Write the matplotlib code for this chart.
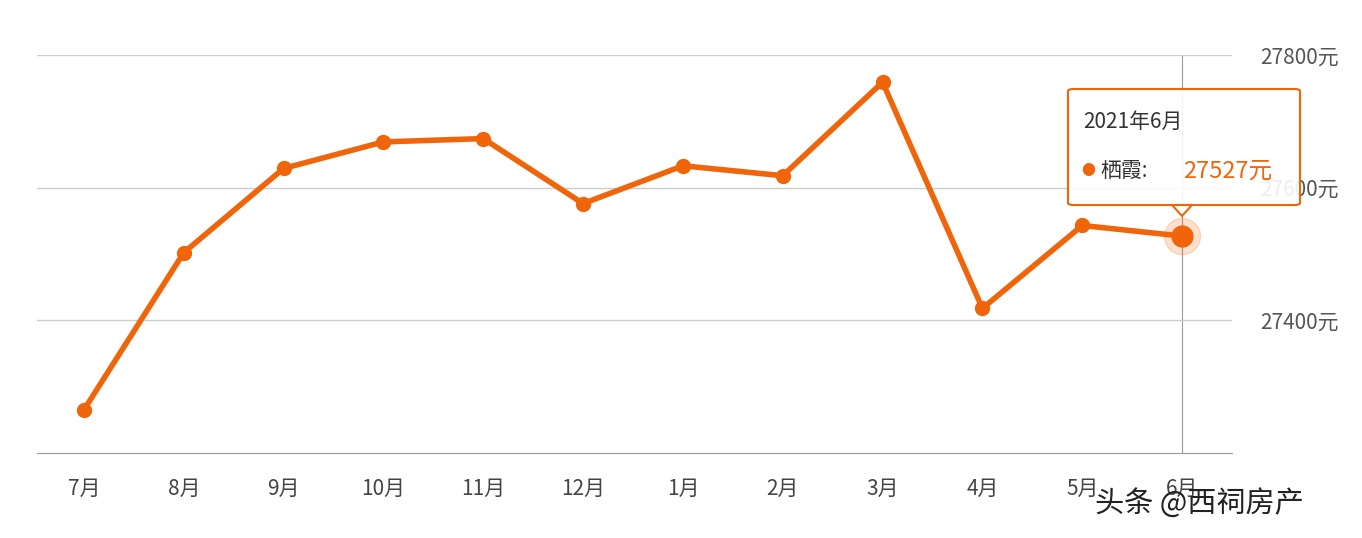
import matplotlib
matplotlib.use("Agg")
import matplotlib.pyplot as plt
from matplotlib.patches import FancyBboxPatch, Polygon

plt.rcParams['font.family'] = ['Noto Sans CJK SC', 'DejaVu Sans']

months = ["7月","8月","9月","10月","11月","12月","1月","2月","3月","4月","5月","6月"]
values = [27265, 27502, 27629, 27669, 27674, 27576, 27633, 27618, 27759, 27418, 27543, 27527]
yticks = [27400, 27600, 27800]
ytick_labels = ["27400元", "27600元", "27800元"]

W, H = 1362, 538
fig = plt.figure(figsize=(W/100, H/100), dpi=100)
ax = fig.add_axes([37/W, 1-453/H, (1232-37)/W, (453-55)/H])
color = "#F0640A"
x = list(range(len(months)))
ax.plot(x, values, color=color, lw=4, marker='o', ms=10, zorder=3)
ax.plot([x[-1]], [values[-1]], 'o', ms=26, color=color, alpha=0.2, zorder=2)
ax.plot([x[-1]], [values[-1]], 'o', ms=15, color=color, zorder=4)
ax.axvline(x[-1], color="#999999", lw=0.8, zorder=1)
ax.set_xlim(-0.47, 11.5)
ax.set_ylim(27200, 27800)
ax.yaxis.tick_right()
ax.set_yticks(yticks)
ax.set_yticklabels(ytick_labels, fontsize=15, color="#555555")
ax.grid(axis='y', color="#cccccc", lw=1)
ax.set_xticks(x)
ax.set_xticklabels(months, fontsize=15, color="#444444")
ax.tick_params(axis='y', length=0, pad=20)
ax.tick_params(axis='x', length=0, pad=18)
for s in ['top', 'left', 'right']:
    ax.spines[s].set_visible(False)
ax.spines['bottom'].set_color("#999999")
ax.set_facecolor("white")

# tooltip
tb = FancyBboxPatch((1068/W, 1-205/H), 232/W, 116/H, boxstyle="round,pad=0,rounding_size=0.004",
                    transform=fig.transFigure, facecolor=(1,1,1,0.9), edgecolor=color, lw=1.5, zorder=10)
fig.patches.append(tb)
tri = Polygon([(1172/W, 1-205/H), (1192/W, 1-205/H), (1182/W, 1-216/H)], closed=True,
              transform=fig.transFigure, facecolor="white", edgecolor=color, lw=1.5, zorder=10)
fig.patches.append(tri)
fig.text(1083/W, 1-122/H, "2021年6月", fontsize=15, color="#333333", va='center', zorder=11)
fig.text(1081/W, 1-171/H, "●", fontsize=10, color=color, va='center', zorder=11)
fig.text(1100/W, 1-171/H, "栖霞:", fontsize=15, color="#333333", va='center', zorder=11)
fig.text(1183/W, 1-171/H, "27527元", fontsize=17, color=color, va='center', zorder=11)

fig.text(1095/W, 1-505/H, "头条 @西祠房产", fontsize=21, color="#222222", va='center')
fig.savefig("out.png", dpi=100)
